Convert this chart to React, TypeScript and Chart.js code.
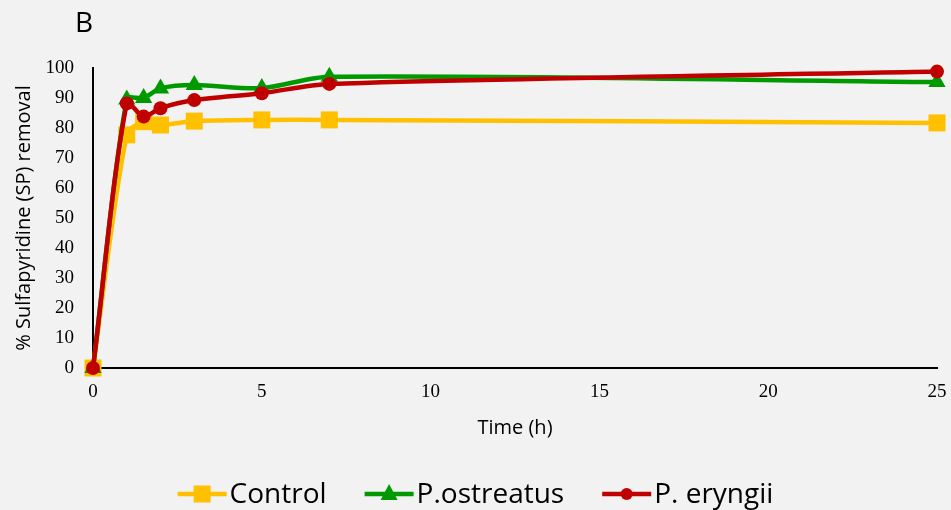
import React, { useEffect, useRef } from "react";
import { Chart, registerables } from "chart.js";

Chart.register(...registerables);

const timeHours = [0, 1, 1.5, 2, 3, 5, 7, 25];
const controlRemoval = [0, 77.7, 82.1, 81.0, 82.3, 82.7, 82.7, 81.7];
const ostreatusRemoval = [0, 89.5, 90.0, 93.2, 94.3, 93.3, 97.1, 95.3];
const eryngiiRemoval = [0, 88.2, 83.8, 86.6, 89.3, 91.6, 94.7, 98.8];
const seriesLabels = ["Control", "P.ostreatus", "P. eryngii"];
const seriesColors = ["#FFC000", "#009A00", "#C00000"];
const seriesMarkers = ["rect", "triangle", "circle"];
const xTickValues = [0, 5, 10, 15, 20, 25];
const yTickValues = [0, 10, 20, 30, 40, 50, 60, 70, 80, 90, 100];
const panelLabel = "B";
const xAxisTitle = "Time (h)";
const yAxisTitle = "% Sulfapyridine (SP) removal";

const SANS = "'Open Sans', sans-serif";
const SERIF = "'Liberation Serif', 'Times New Roman', serif";

const overlayPlugin = {
  id: "overlay",
  afterDraw(chart: any) {
    const ctx = chart.ctx as CanvasRenderingContext2D;
    ctx.save();
    // panel label
    ctx.fillStyle = "#000";
    ctx.font = `28px ${SANS}`;
    ctx.textAlign = "left";
    ctx.textBaseline = "alphabetic";
    ctx.fillText(panelLabel, 75, 32);

    // legend
    const lineLen = 49;
    const textGap = 3;
    const itemGap = 38;
    ctx.font = `28px ${SANS}`;
    const widths = seriesLabels.map((l) => lineLen + textGap + ctx.measureText(l).width);
    const total = widths.reduce((a, b) => a + b, 0) + itemGap * (seriesLabels.length - 1);
    let x = chart.width / 2 - total / 2;
    const y = 494;
    seriesLabels.forEach((label, i) => {
      const c = seriesColors[i];
      ctx.strokeStyle = c;
      ctx.lineWidth = 4.5;
      ctx.beginPath();
      ctx.moveTo(x, y);
      ctx.lineTo(x + lineLen, y);
      ctx.stroke();
      const cx = x + lineLen / 2;
      ctx.fillStyle = c;
      ctx.beginPath();
      if (seriesMarkers[i] === "rect") {
        ctx.rect(cx - 8.5, y - 8.5, 17, 17);
      } else if (seriesMarkers[i] === "triangle") {
        ctx.moveTo(cx, y - 10);
        ctx.lineTo(cx + 8.5, y + 6);
        ctx.lineTo(cx - 8.5, y + 6);
        ctx.closePath();
      } else {
        ctx.arc(cx, y, 6, 0, Math.PI * 2);
      }
      ctx.fill();
      ctx.fillStyle = "#000";
      ctx.textAlign = "left";
      ctx.textBaseline = "alphabetic";
      ctx.fillText(label, x + lineLen + textGap, 503);
      x += widths[i] + itemGap;
    });
    ctx.restore();
  },
};

const bgPlugin = {
  id: "bg",
  beforeDraw(chart: any) {
    const ctx = chart.ctx;
    ctx.save();
    ctx.fillStyle = "#F2F2F2";
    ctx.fillRect(0, 0, chart.width, chart.height);
    ctx.restore();
  },
};

export default function App() {
  const ref = useRef<HTMLCanvasElement | null>(null);
  useEffect(() => {
    document.body.style.margin = "0";
    document.body.style.background = "#F2F2F2";
    const canvas = ref.current!;
    const seriesData = [controlRemoval, ostreatusRemoval, eryngiiRemoval];
    const datasets = seriesLabels.map((label, i) => ({
      label,
      data: timeHours.map((t, j) => ({ x: t, y: seriesData[i][j] })),
      borderColor: seriesColors[i],
      backgroundColor: seriesColors[i],
      borderWidth: 4.5,
      pointStyle: seriesMarkers[i],
      pointRadius: seriesMarkers[i] === "rect" ? 12 : seriesMarkers[i] === "triangle" ? 10 : 7,
      pointBorderWidth: 0,
      tension: 0.3,
      order: 3 - i,
      clip: false,
    }));
    const chart = new Chart(canvas, {
      type: "line",
      data: { datasets },
      plugins: [bgPlugin, overlayPlugin],
      options: {
        animation: false,
        responsive: false,
        devicePixelRatio: 1,
        layout: { padding: { left: 0, right: 14, top: 68, bottom: 0 } },
        plugins: { legend: { display: false }, title: { display: false }, tooltip: { enabled: false } },
        scales: {
          x: {
            type: "linear",
            min: 0,
            max: 25,
            afterBuildTicks: (s: any) => {
              s.ticks = xTickValues.map((v) => ({ value: v }));
            },
            afterFit: (s: any) => {
              s.height = 142;
              s.paddingRight = 0;
              s.paddingLeft = 0;
            },
            grid: { display: false, drawTicks: false },
            border: { display: true, color: "#000", width: 2 },
            ticks: { color: "#000", font: { family: SERIF, size: 19 }, padding: 13, maxRotation: 0 },
            title: {
              display: true,
              text: xAxisTitle,
              color: "#000",
              font: { family: SANS, size: 20 },
              padding: { top: 0, bottom: 70 },
            },
          },
          y: {
            type: "linear",
            min: 0,
            max: 100,
            afterBuildTicks: (s: any) => {
              s.ticks = yTickValues.map((v) => ({ value: v }));
            },
            afterFit: (s: any) => {
              s.width = 93;
            },
            grid: { display: false, drawTicks: false },
            border: { display: true, color: "#000", width: 2 },
            ticks: { color: "#000", font: { family: SERIF, size: 19 }, padding: 19 },
            title: {
              display: true,
              text: yAxisTitle,
              color: "#000",
              font: { family: SANS, size: 20 },
              padding: { top: 12, bottom: 0 },
            },
          },
        },
      } as any,
    });
    return () => chart.destroy();
  }, []);
  return (
    <div style={{ position: "fixed", left: 0, top: 0, width: 951, height: 510, background: "#F2F2F2" }}>
      <canvas ref={ref} width={951} height={510} style={{ width: 951, height: 510, display: "block" }} />
    </div>
  );
}
